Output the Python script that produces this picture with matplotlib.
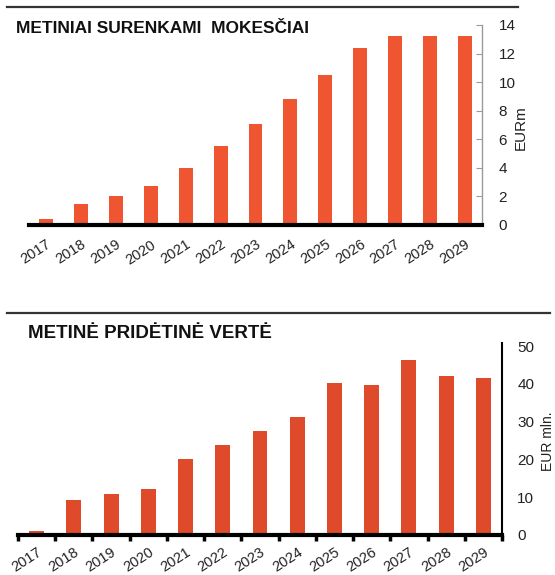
import matplotlib
matplotlib.use('Agg')
import matplotlib.pyplot as plt
from matplotlib.lines import Line2D

plt.rcParams['font.family'] = ['Liberation Sans', 'DejaVu Sans']

# Data
years = ['2017', '2018', '2019', '2020', '2021', '2022', '2023',
         '2024', '2025', '2026', '2027', '2028', '2029']
payments = [0.4, 1.5, 2.0, 2.7, 4.0, 5.55, 7.05, 8.8, 10.5, 12.4, 13.2, 13.2, 13.2]
added_value = [1.0, 9.3, 10.8, 12.2, 20.2, 23.8, 27.4, 31.2, 40.2, 39.8, 46.3, 42.0, 41.6]

W, H = 555, 575
fig = plt.figure(figsize=(W / 100, H / 100), dpi=100)


def box(x0, y0, x1, y1):
    # pixel box (top-left origin) -> figure fraction rect
    return [x0 / W, 1 - y1 / H, (x1 - x0) / W, (y1 - y0) / H]


x = list(range(len(years)))

# ---- top chart: annual payments ----
ax1 = fig.add_axes(box(29, 25, 482, 225))
ax1.bar(x, payments, width=0.4, color='#EF5530')
ax1.set_xlim(-0.49, 12.49)
ax1.set_ylim(0, 14)
for s in ['top', 'left']:
    ax1.spines[s].set_visible(False)
ax1.spines['bottom'].set_linewidth(3)
ax1.spines['bottom'].set_color('black')
ax1.spines['right'].set_color('#9a9a9a')
ax1.spines['right'].set_linewidth(1)
ax1.yaxis.tick_right()
ax1.set_yticks(range(0, 15, 2))
ax1.tick_params(axis='y', direction='in', length=4, color='#9a9a9a',
                pad=12, labelsize=11, labelcolor='#222222')
ax1.set_xticks(x)
ax1.set_xticklabels(years, rotation=33, ha='right', rotation_mode='anchor',
                    fontsize=10.5, color='#222222')
ax1.tick_params(axis='x', length=0, pad=9)
fig.text(521 / W, 1 - 128 / H, 'EURm', rotation=90, ha='center', va='center',
         fontsize=11, color='#222222')
fig.text(16 / W, 1 - 28.5 / H, 'METINIAI SURENKAMI  MOKESČIAI', fontsize=12.5,
         fontweight='bold', ha='left', va='center', color='#111111')

# ---- bottom chart: annual added value ----
ax2 = fig.add_axes(box(18, 343, 502, 535))
ax2.bar(x, added_value, width=0.4, color='#DE4A2A')
ax2.set_xlim(-0.5, 12.5)
ax2.set_ylim(0, 50.8)
for s in ['top', 'left']:
    ax2.spines[s].set_visible(False)
ax2.spines['bottom'].set_linewidth(3)
ax2.spines['right'].set_linewidth(1.5)
ax2.yaxis.tick_right()
ax2.set_yticks(range(0, 51, 10))
ax2.tick_params(axis='y', length=0, pad=11, labelsize=11, labelcolor='#222222')
ax2.set_xticks(x)
ax2.set_xticklabels(years, rotation=33, ha='right', rotation_mode='anchor',
                    fontsize=10.5, color='#222222')
ax2.set_xticks([i - 0.5 for i in range(len(years) + 1)], minor=True)
ax2.tick_params(axis='x', which='major', length=0, pad=7)
ax2.tick_params(axis='x', which='minor', direction='out', length=4, width=2.5)
fig.text(548 / W, 1 - 441 / H, 'EUR mln.', rotation=90, ha='center', va='center',
         fontsize=10, color='#222222')
fig.text(28 / W, 1 - 333.5 / H, 'METINĖ PRIDĖTINĖ VERTĖ', fontsize=13.5,
         fontweight='bold', ha='left', va='center', color='#111111')

# horizontal rules above each chart
fig.add_artist(Line2D([7 / W, 518 / W], [1 - 7 / H, 1 - 7 / H], color='#333333', lw=1.6))
fig.add_artist(Line2D([7 / W, 550 / W], [1 - 313 / H, 1 - 313 / H], color='#333333', lw=1.6))

fig.savefig('out.png', dpi=100, facecolor='white')
